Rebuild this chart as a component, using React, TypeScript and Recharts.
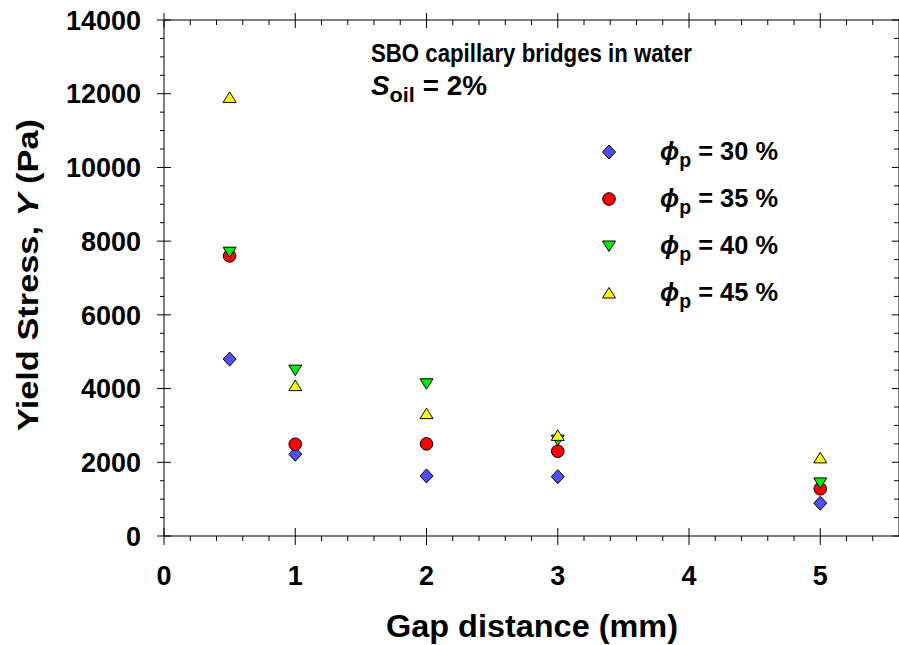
import { ScatterChart, Scatter, XAxis, YAxis, Legend, Customized } from "recharts";

const gapDistance = [0.5, 1, 2, 3, 5];
const phi30 = [4800, 2220, 1630, 1610, 890];
const phi35 = [7600, 2490, 2500, 2300, 1280];
const phi40 = [7700, 4500, 4130, 2600, 1440];
const phi45 = [11900, 4080, 3320, 2730, 2120];
const seriesLabels = ["30", "35", "40", "45"];

const xTicks = [
    0, 0.2, 0.4, 0.6, 0.8, 1, 1.2, 1.4, 1.6, 1.8, 2, 2.2, 2.4, 2.6, 2.8, 3, 3.2, 3.4, 3.6, 3.8, 4, 4.2,
    4.4, 4.6, 4.8, 5, 5.2, 5.4,
];
const yTicks = [
    0, 500, 1000, 1500, 2000, 2500, 3000, 3500, 4000, 4500, 5000, 5500, 6000, 6500, 7000, 7500, 8000,
    8500, 9000, 9500, 10000, 10500, 11000, 11500, 12000, 12500, 13000, 13500, 14000,
];

const FONT = "'Liberation Sans', Arial, sans-serif";
const COLORS = ["#5050f0", "#ff0000", "#00ee00", "#ffff00"];

const toPoints = (ys: number[]) => gapDistance.map((x, i) => ({ x, y: ys[i] }));
const series = [phi30, phi35, phi40, phi45].map(toPoints);

const Marker = ({ kind, cx, cy }: { kind: number; cx: number; cy: number }) => {
    const common = { fill: COLORS[kind], stroke: "#000", strokeWidth: 1 };
    if (kind === 0) {
        return <polygon {...common} points={`${cx},${cy - 7} ${cx + 6.5},${cy} ${cx},${cy + 7} ${cx - 6.5},${cy}`} />;
    }
    if (kind === 1) {
        return <circle {...common} cx={cx} cy={cy} r={6.3} />;
    }
    if (kind === 2) {
        return <polygon {...common} points={`${cx - 6.5},${cy - 5} ${cx + 6.5},${cy - 5} ${cx},${cy + 5.5}`} />;
    }
    return <polygon {...common} points={`${cx - 6.5},${cy + 5} ${cx + 6.5},${cy + 5} ${cx},${cy - 5.5}`} />;
};

const isMajor = (v: number) => Number.isInteger(v);

const BottomTick = ({ x, y, payload }: any) => {
    const major = isMajor(payload.value);
    return (
        <g>
            {major ? (
                <line x1={x} x2={x} y1={y - 8} y2={y + 9} stroke="#000" />
            ) : (
                <line x1={x} x2={x} y1={y} y2={y + 5} stroke="#000" />
            )}
            {major && (
                <text x={x} y={y + 49} textAnchor="middle" fontSize={27} fontWeight="bold" fontFamily={FONT} fill="#000">
                    {payload.value}
                </text>
            )}
        </g>
    );
};

const TopTick = ({ x, y, payload }: any) =>
    isMajor(payload.value) ? (
        <line x1={x} x2={x} y1={y - 7} y2={y + 8} stroke="#000" />
    ) : (
        <line x1={x} x2={x} y1={y} y2={y + 5} stroke="#000" />
    );

const LeftTick = ({ x, y, payload }: any) => {
    const major = payload.value % 2000 === 0;
    return (
        <g>
            {major ? (
                <line x1={x - 7} x2={x + 7} y1={y} y2={y} stroke="#000" />
            ) : (
                <line x1={x - 4} x2={x} y1={y} y2={y} stroke="#000" />
            )}
            {major && (
                <text x={x - 23} y={y} dy="0.36em" textAnchor="end" fontSize={27} fontWeight="bold" fontFamily={FONT} fill="#000">
                    {payload.value}
                </text>
            )}
        </g>
    );
};

const RightTick = ({ x, y, payload }: any) =>
    payload.value % 2000 === 0 ? (
        <line x1={x - 7} x2={x + 7} y1={y} y2={y} stroke="#000" />
    ) : (
        <line x1={x - 5} x2={x} y1={y} y2={y} stroke="#000" />
    );

const Annotations = () => (
    <g fontFamily={FONT} fontWeight="bold" fill="#000">
        <text x={371} y={62} fontSize={26} textLength={321} lengthAdjust="spacingAndGlyphs">
            SBO capillary bridges in water
        </text>
        <text x={371} y={95} fontSize={27} textLength={116} lengthAdjust="spacingAndGlyphs">
            <tspan fontStyle="italic">S</tspan>
            <tspan fontSize={21} dy={7}>oil</tspan>
            <tspan dy={-7}> = 2%</tspan>
        </text>
        <text x={532} y={637} fontSize={31} textAnchor="middle" textLength={292} lengthAdjust="spacingAndGlyphs">
            Gap distance (mm)
        </text>
        <text
            transform="translate(38,275) rotate(-90)"
            fontSize={30}
            textAnchor="middle"
            textLength={312}
            lengthAdjust="spacingAndGlyphs"
        >
            Yield Stress, <tspan fontStyle="italic">Y</tspan> (Pa)
        </text>
    </g>
);

const LegendContent = () => (
    <svg width={240} height={190} style={{ display: "block" }}>
        {seriesLabels.map((label, i) => (
            <g key={label}>
                <Marker kind={i} cx={19} cy={22 + i * 47} />
                <text
                    x={70}
                    y={30 + i * 47}
                    fontSize={26}
                    fontWeight="bold"
                    fontFamily={FONT}
                    fill="#000"
                    textLength={118}
                    lengthAdjust="spacingAndGlyphs"
                >
                    <tspan fontStyle="italic">ϕ</tspan>
                    <tspan fontSize={20} dy={7}>p</tspan>
                    <tspan dy={-7}> = {label} %</tspan>
                </text>
            </g>
        ))}
    </svg>
);

export default function App() {
    return (
        <div style={{ position: "absolute", left: 0, top: 0, background: "#fff" }}>
            <ScatterChart width={900} height={645} margin={{ top: 19, right: 0, bottom: 0, left: 0 }}>
                <XAxis
                    xAxisId="b"
                    type="number"
                    dataKey="x"
                    domain={[0, 5.6]}
                    ticks={xTicks}
                    interval={0}
                    height={109}
                    tickSize={0}
                    tickMargin={0}
                    tickLine={false}
                    axisLine={{ stroke: "#000" }}
                    tick={<BottomTick />}
                />
                <XAxis
                    xAxisId="t"
                    orientation="top"
                    type="number"
                    dataKey="x"
                    domain={[0, 5.6]}
                    ticks={xTicks}
                    interval={0}
                    height={1}
                    tickSize={0}
                    tickMargin={0}
                    tickLine={false}
                    axisLine={{ stroke: "#000" }}
                    tick={<TopTick />}
                />
                <YAxis
                    yAxisId="l"
                    type="number"
                    dataKey="y"
                    domain={[0, 14000]}
                    ticks={yTicks}
                    interval={0}
                    width={164}
                    tickSize={0}
                    tickMargin={0}
                    tickLine={false}
                    axisLine={{ stroke: "#000" }}
                    tick={<LeftTick />}
                />
                <YAxis
                    yAxisId="r"
                    orientation="right"
                    type="number"
                    dataKey="y"
                    domain={[0, 14000]}
                    ticks={yTicks}
                    interval={0}
                    width={1}
                    tickSize={0}
                    tickMargin={0}
                    tickLine={false}
                    axisLine={{ stroke: "#000" }}
                    tick={<RightTick />}
                />
                {series.map((data, i) => (
                    <Scatter
                        key={seriesLabels[i]}
                        name={`ϕp = ${seriesLabels[i]} %`}
                        data={data}
                        xAxisId="b"
                        yAxisId="l"
                        isAnimationActive={false}
                        shape={(p: any) => <Marker kind={i} cx={p.cx} cy={p.cy} />}
                    />
                ))}
                <Scatter data={series[0]} xAxisId="t" yAxisId="r" isAnimationActive={false} shape={() => <g />} legendType="none" />
                <Legend
                    layout="horizontal"
                    verticalAlign="middle"
                    align="center"
                    content={<LegendContent />}
                    wrapperStyle={{ left: 590, top: 130, width: 240 }}
                />
                <Customized component={Annotations} />
            </ScatterChart>
        </div>
    );
}
